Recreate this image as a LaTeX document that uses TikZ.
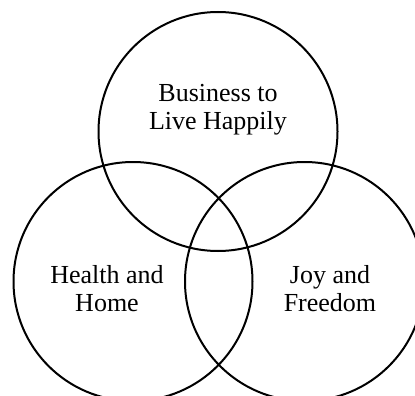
\documentclass[tikz,border=0pt]{standalone}
\usepackage{fontspec}
\setmainfont{Liberation Serif}
\usepackage{tikz}

\tikzset{
  set/.style={draw, circle, line width=2pt, minimum size=239pt, inner sep=0pt},
  settext/.style={align=center, inner sep=0pt, font=\fontsize{26}{28}\selectfont}
}

\begin{document}
\begin{tikzpicture}[x=1pt, y=-1pt]
    \useasboundingbox (0, 0) rectangle (415, 396);

    \node [set] (business) at (218, 131.5) {};

    \node [set] (health) at (133, 281.5) {};

    \node [set] (joy) at (304.5, 281.5) {};


    \node [settext] (businesstext) at (218, 109.5) {Business to\\Live Happily};

    \node [settext] (healthtext) at (107, 289) {Health and\\Home};

    \node [settext] (joytext) at (330, 289) {Joy and\\Freedom};

  \end{tikzpicture}
\end{document}
